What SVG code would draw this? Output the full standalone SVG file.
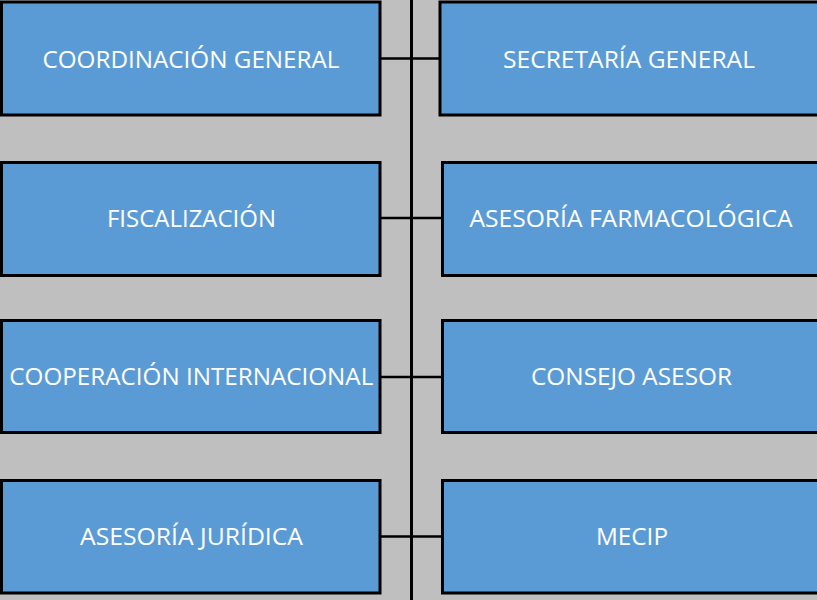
<svg xmlns="http://www.w3.org/2000/svg" width="817" height="600" viewBox="0 0 817 600">
<style>
.box{fill:#5b9bd5;stroke:#000;stroke-width:3}
.lbl{fill:#fff;font-family:"Open Sans","Liberation Sans",sans-serif;font-size:24px;text-anchor:middle}
.con{stroke:#000;stroke-width:2.5;fill:none}
</style>
<rect x="0" y="0" width="817" height="600" fill="#bfbfbf"/>
<g id="connectors">
<line class="con" x1="411.5" y1="0" x2="411.5" y2="600" style="stroke-width:3"/>
<line class="con" x1="380" y1="58.5" x2="440" y2="58.5"/>
<line class="con" x1="380" y1="218" x2="442" y2="218"/>
<line class="con" x1="380" y1="377" x2="442" y2="377"/>
<line class="con" x1="380" y1="536.5" x2="442" y2="536.5"/>
</g>
<g id="coordinacion">
<rect class="box" x="1.5" y="2" width="378.5" height="113"/>
<text class="lbl" x="191" y="67.5" textLength="297" lengthAdjust="spacingAndGlyphs">COORDINACIÓN GENERAL</text>
</g>
<g id="secretaria">
<rect class="box" x="440" y="2" width="380" height="113"/>
<text class="lbl" x="629" y="67.5" textLength="252" lengthAdjust="spacingAndGlyphs">SECRETARÍA GENERAL</text>
</g>
<g id="fiscalizacion">
<rect class="box" x="1.5" y="162.5" width="378.5" height="113"/>
<text class="lbl" x="191.5" y="226.5" textLength="169" lengthAdjust="spacingAndGlyphs">FISCALIZACIÓN</text>
</g>
<g id="farmacologica">
<rect class="box" x="442.5" y="162.5" width="380" height="113"/>
<text class="lbl" x="631" y="226.5" textLength="323" lengthAdjust="spacingAndGlyphs">ASESORÍA FARMACOLÓGICA</text>
</g>
<g id="cooperacion">
<rect class="box" x="1.5" y="320.5" width="378.5" height="112"/>
<text class="lbl" x="191.3" y="384.5" textLength="364" lengthAdjust="spacingAndGlyphs">COOPERACIÓN INTERNACIONAL</text>
</g>
<g id="consejo">
<rect class="box" x="442.5" y="320.5" width="380" height="112"/>
<text class="lbl" x="631.5" y="384.5" textLength="201" lengthAdjust="spacingAndGlyphs">CONSEJO ASESOR</text>
</g>
<g id="juridica">
<rect class="box" x="1.5" y="480.5" width="378.5" height="112.5"/>
<text class="lbl" x="191.5" y="544.5" textLength="223" lengthAdjust="spacingAndGlyphs">ASESORÍA JURÍDICA</text>
</g>
<g id="mecip">
<rect class="box" x="442.5" y="480.5" width="380" height="112.5"/>
<text class="lbl" x="632" y="544.5" textLength="72" lengthAdjust="spacingAndGlyphs">MECIP</text>
</g>
</svg>
